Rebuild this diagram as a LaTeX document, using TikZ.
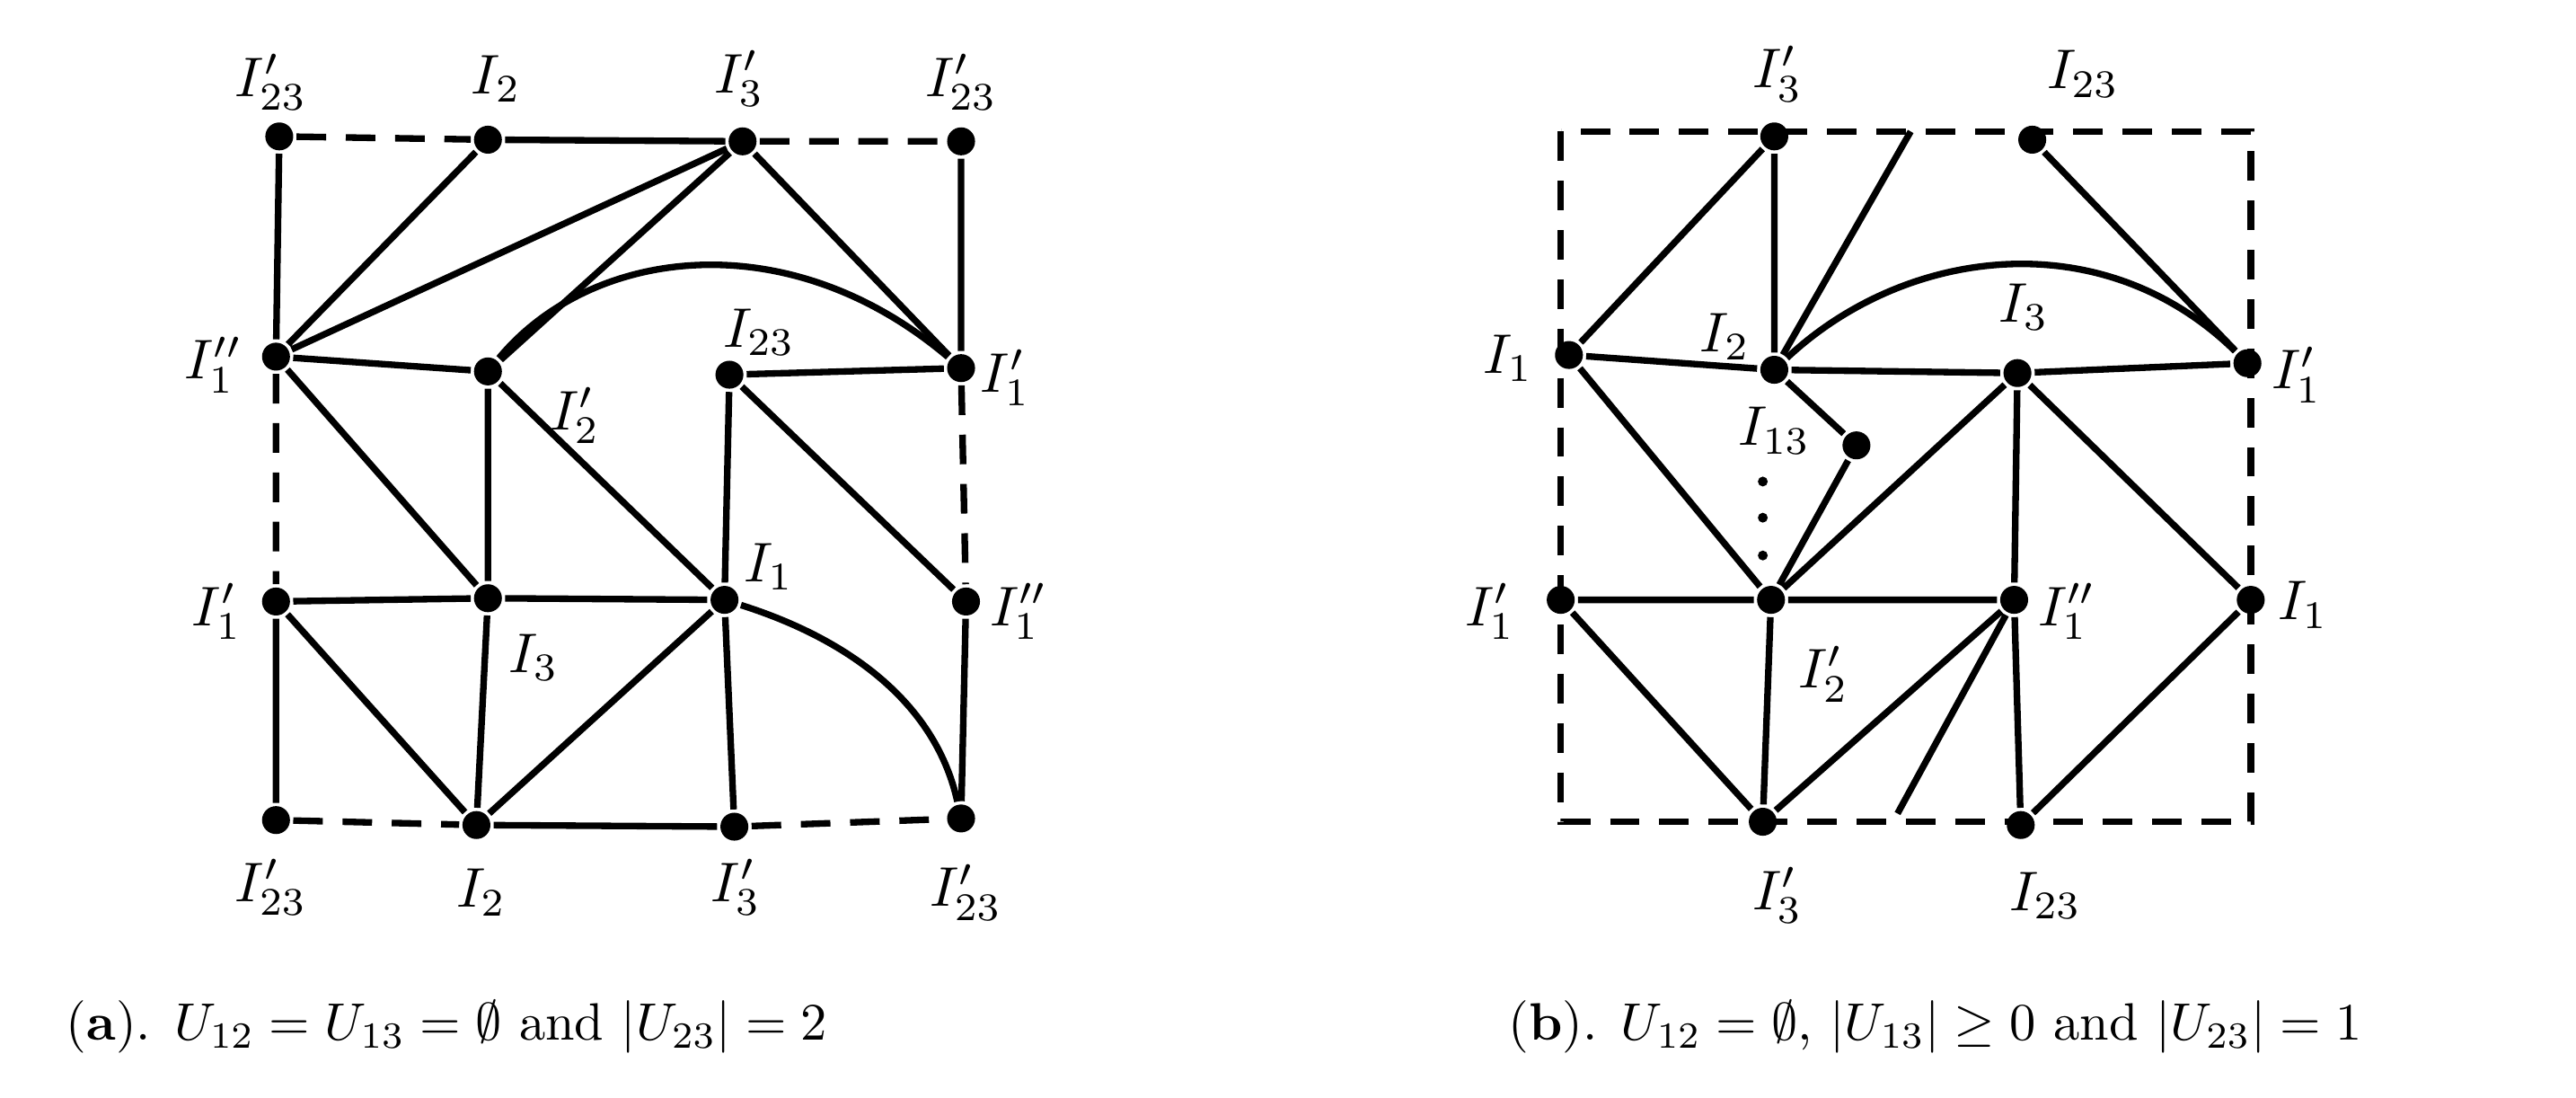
\documentclass[tikz,border=0pt]{standalone}
\usepackage{graphicx}
\usepackage{amssymb}
\newcommand{\mysz}[1]{\scalebox{3.4}{#1}}
\newcommand{\mycap}[1]{\scalebox{3.2}{#1}}
\begin{document}
\begin{tikzpicture}[x=1pt,y=-1pt,line width=4pt,
  dot/.style={circle,fill=black,inner sep=0pt,minimum size=17pt},
  lab/.style={inner sep=0pt},
  dsh/.style={dash pattern=on 18pt off 12pt}]
\useasboundingbox (0,0) rectangle (1568,668);
% ---- left
\foreach \n/\x/\y in {a1/170/83,a2/297/85,a3/452/86,a4/585/86,
 b1/168/217,b2/297/226,b3/444/228,b4/585/224,
 c1/168/366,c2/297/364,c3/441/365,c4/588/366,
 d1/168/499,d2/290/502,d3/447/503,d4/585/498}
 \node[dot] (\n) at (\x,\y) {};
\draw (a1)--(b1) (a2)--(a3) (a4)--(b4);
\draw[dsh] (a1)--(a2) (a3)--(a4) (b1)--(c1) (b4)--(c4) (d1)--(d2) (d3)--(d4);
\draw (a2)--(b1) (a3)--(b1) (a3)--(b2) (a3)--(b4);
\draw (b2) .. controls (360,150) and (480,135) .. (b4);
\draw (b1)--(b2) (b1)--(c2) (b3)--(b4) (b3)--(c3) (b3)--(c4) (b2)--(c2) (b2)--(c3);
\draw (c1)--(c2)--(c3) (c1)--(d1) (c1)--(d2) (c2)--(d2) (c3)--(d2) (c3)--(d3) (c4)--(d4) (d2)--(d3);
\draw (c3) .. controls (520,390) and (570,430) .. (d4);
\node[lab] (la1) at (165,50) {\mysz{$I'_{23}$}};
\node[lab] (la2) at (302,48) {\mysz{$I_2$}};
\node[lab] (la3) at (450,48) {\mysz{$I'_3$}};
\node[lab] (la4) at (585,50) {\mysz{$I'_{23}$}};
\node[lab] (lb1) at (130,222) {\mysz{$I''_1$}};
\node[lab] (lb2) at (350,253) {\mysz{$I'_2$}};
\node[lab] (lb3) at (462,202) {\mysz{$I_{23}$}};
\node[lab] (lb4) at (612,230) {\mysz{$I'_1$}};
\node[lab] (lc1) at (132,372) {\mysz{$I'_1$}};
\node[lab] (lc2) at (325,400) {\mysz{$I_3$}};
\node[lab] (lc3) at (468,345) {\mysz{$I_1$}};
\node[lab] (lc4) at (620,372) {\mysz{$I''_1$}};
\node[lab] (ld1) at (165,540) {\mysz{$I'_{23}$}};
\node[lab] (ld2) at (293,543) {\mysz{$I_2$}};
\node[lab] (ld3) at (448,540) {\mysz{$I'_3$}};
\node[lab] (ld4) at (588,543) {\mysz{$I'_{23}$}};
\node[lab] (capa) at (272,625) {\mycap{(\textbf{a}). $U_{12}=U_{13}=\emptyset$ and $|U_{23}|=2$}};
% ---- right
\draw[dsh] (950,80) rectangle (1370,500);
\foreach \n/\x/\y in {e1/1080/83,e2/1237/85,
 f1/955/216,f2/1080/225,f3/1228/227,f4/1368/221,g/1130/271,
 h1/950/365,h2/1078/365,h3/1226/365,h4/1370/365,
 k1/1073/500,k2/1230/502}
 \node[dot] (\n) at (\x,\y) {};
\coordinate (t1) at (1163,80);
\coordinate (t2) at (1155,495);
\draw (e1)--(f1) (e1)--(f2) (f2)--(t1) (e2)--(f4);
\draw (f2) .. controls (1160,150) and (1280,135) .. (f4);
\draw (f1)--(f2)--(f3)--(f4) (f2)--(g)--(h2) (f1)--(h2) (f3)--(h2) (f3)--(h3) (f3)--(h4);
\draw (h1)--(h2)--(h3) (h1)--(k1) (h2)--(k1) (h3)--(k1) (h3)--(t2) (h3)--(k2) (h4)--(k2);
\foreach \yy [count=\i] in {293,315,338} \node[circle,fill=black,inner sep=0pt,minimum size=6pt] (dd\i) at (1073,\yy) {};
\node[lab] (le1) at (1082,45) {\mysz{$I'_3$}};
\node[lab] (le2) at (1268,45) {\mysz{$I_{23}$}};
\node[lab] (lf1) at (918,218) {\mysz{$I_1$}};
\node[lab] (lf2) at (1050,205) {\mysz{$I_2$}};
\node[lab] (lf3) at (1232,187) {\mysz{$I_3$}};
\node[lab] (lf4) at (1398,228) {\mysz{$I'_1$}};
\node[lab] (lg) at (1080,262) {\mysz{$I_{13}$}};
\node[lab] (lh1) at (907,372) {\mysz{$I'_1$}};
\node[lab] (lh3) at (1258,372) {\mysz{$I''_1$}};
\node[lab] (lh4) at (1402,368) {\mysz{$I_1$}};
\node[lab] (lh2) at (1110,410) {\mysz{$I'_2$}};
\node[lab] (lk1) at (1082,545) {\mysz{$I'_3$}};
\node[lab] (lk2) at (1245,545) {\mysz{$I_{23}$}};
\node[lab] (capb) at (1178,625) {\mycap{(\textbf{b}). $U_{12}=\emptyset$, $|U_{13}|\geq 0$ and $|U_{23}|=1$}};
\end{tikzpicture}
\end{document}
